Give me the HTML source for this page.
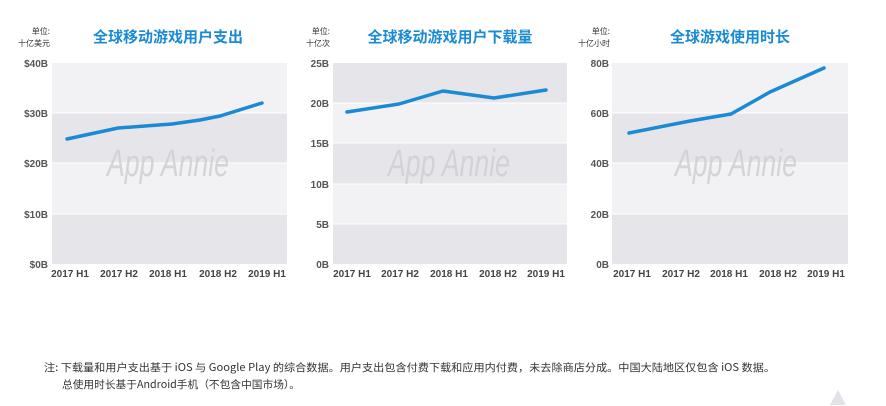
<!DOCTYPE html>
<html><head><meta charset="utf-8"><style>
body{margin:0;background:#fff;}
svg{display:block;font-family:"Liberation Sans","Noto Sans CJK SC",sans-serif;}
.t{fill:#1a8ad4;font-size:15px;font-weight:bold;text-anchor:middle;font-family:"Noto Sans CJK SC",sans-serif;}
.y{fill:#555;font-size:10px;font-weight:bold;text-anchor:end;}
.x{fill:#444;font-size:10px;font-weight:bold;text-anchor:middle;}
.u{fill:#333;font-size:8px;text-anchor:end;font-family:"Noto Sans CJK SC",sans-serif;}
.w{fill:#cfcfd4;font-size:38px;font-style:italic;opacity:.85;}
.l{fill:none;stroke:#1a8ad4;stroke-width:3.5;stroke-linejoin:round;stroke-linecap:round;}
.n{fill:#333;font-size:10.5px;font-family:"Noto Sans CJK SC",sans-serif;}
</style></head><body>
<svg width="886" height="406" viewBox="0 0 886 406">
<!-- chart 1 -->
<text class="u" x="50" y="34">单位:</text><text class="u" x="50" y="46">十亿美元</text>
<text class="t" x="168" y="42">全球移动游戏用户支出</text>
<rect x="52" y="63" width="235" height="50" fill="#f2f2f4"/>
<rect x="52" y="113" width="235" height="50" fill="#e6e6ea"/>
<rect x="52" y="163" width="235" height="51" fill="#f2f2f4"/>
<rect x="52" y="214" width="235" height="50" fill="#e6e6ea"/>
<g stroke="#fff" stroke-width="1"><line x1="52" x2="287" y1="113" y2="113"/><line x1="52" x2="287" y1="163" y2="163"/><line x1="52" x2="287" y1="214" y2="214"/></g>
<text class="w" x="107" y="176" textLength="122" lengthAdjust="spacingAndGlyphs">App Annie</text>
<g class="y"><text x="48" y="67">$40B</text><text x="48" y="117">$30B</text><text x="48" y="167">$20B</text><text x="48" y="218">$10B</text><text x="48" y="268">$0B</text></g>
<g class="x"><text x="70" y="277">2017 H1</text><text x="119" y="277">2017 H2</text><text x="168" y="277">2018 H1</text><text x="218" y="277">2018 H2</text><text x="267" y="277">2019 H1</text></g>
<polyline class="l" points="67,139 118,128 172,124 200,120 220,116 262,103"/>
<!-- chart 2 -->
<text class="u" x="330" y="34">单位:</text><text class="u" x="330" y="46">十亿次</text>
<text class="t" x="450" y="42">全球移动游戏用户下载量</text>
<rect x="333" y="63" width="234" height="40" fill="#e6e6ea"/>
<rect x="333" y="103" width="234" height="40" fill="#f2f2f4"/>
<rect x="333" y="143" width="234" height="41" fill="#e6e6ea"/>
<rect x="333" y="184" width="234" height="40" fill="#f2f2f4"/>
<rect x="333" y="224" width="234" height="40" fill="#e6e6ea"/>
<g stroke="#fff"><line x1="333" x2="567" y1="103" y2="103"/><line x1="333" x2="567" y1="143" y2="143"/><line x1="333" x2="567" y1="184" y2="184"/><line x1="333" x2="567" y1="224" y2="224"/></g>
<text class="w" x="388" y="176" textLength="122" lengthAdjust="spacingAndGlyphs">App Annie</text>
<g class="y"><text x="329" y="67">25B</text><text x="329" y="107">20B</text><text x="329" y="147">15B</text><text x="329" y="188">10B</text><text x="329" y="228">5B</text><text x="329" y="268">0B</text></g>
<g class="x"><text x="352" y="277">2017 H1</text><text x="400" y="277">2017 H2</text><text x="449" y="277">2018 H1</text><text x="498" y="277">2018 H2</text><text x="546" y="277">2019 H1</text></g>
<polyline class="l" points="347,112 399,104 443,91 494,98 546,90"/>
<!-- chart 3 -->
<text class="u" x="610" y="34">单位:</text><text class="u" x="610" y="46">十亿小时</text>
<text class="t" x="730" y="42">全球游戏使用时长</text>
<rect x="612" y="63" width="236" height="50" fill="#f2f2f4"/>
<rect x="612" y="113" width="236" height="50" fill="#e6e6ea"/>
<rect x="612" y="163" width="236" height="51" fill="#f2f2f4"/>
<rect x="612" y="214" width="236" height="50" fill="#e6e6ea"/>
<g stroke="#fff"><line x1="612" x2="848" y1="113" y2="113"/><line x1="612" x2="848" y1="163" y2="163"/><line x1="612" x2="848" y1="214" y2="214"/></g>
<text class="w" x="675" y="176" textLength="122" lengthAdjust="spacingAndGlyphs">App Annie</text>
<g class="y"><text x="609" y="67">80B</text><text x="609" y="117">60B</text><text x="609" y="167">40B</text><text x="609" y="218">20B</text><text x="609" y="268">0B</text></g>
<g class="x"><text x="632" y="277">2017 H1</text><text x="681" y="277">2017 H2</text><text x="729" y="277">2018 H1</text><text x="778" y="277">2018 H2</text><text x="826" y="277">2019 H1</text></g>
<polyline class="l" points="629,133 690,121 731,114 770,92 824,68"/>
<!-- notes -->
<text class="n" x="44" y="371" textLength="731" lengthAdjust="spacingAndGlyphs">注: 下载量和用户支出基于 iOS 与 Google Play 的综合数据。用户支出包含付费下载和应用内付费，未去除商店分成。中国大陆地区仅包含 iOS 数据。</text>
<text class="n" x="62" y="388" textLength="238" lengthAdjust="spacingAndGlyphs">总使用时长基于Android手机（不包含中国市场）。</text>
<path d="M830 405 L838 390 L846 405 Z" fill="#e2e2ea"/>
</svg>
</body></html>
